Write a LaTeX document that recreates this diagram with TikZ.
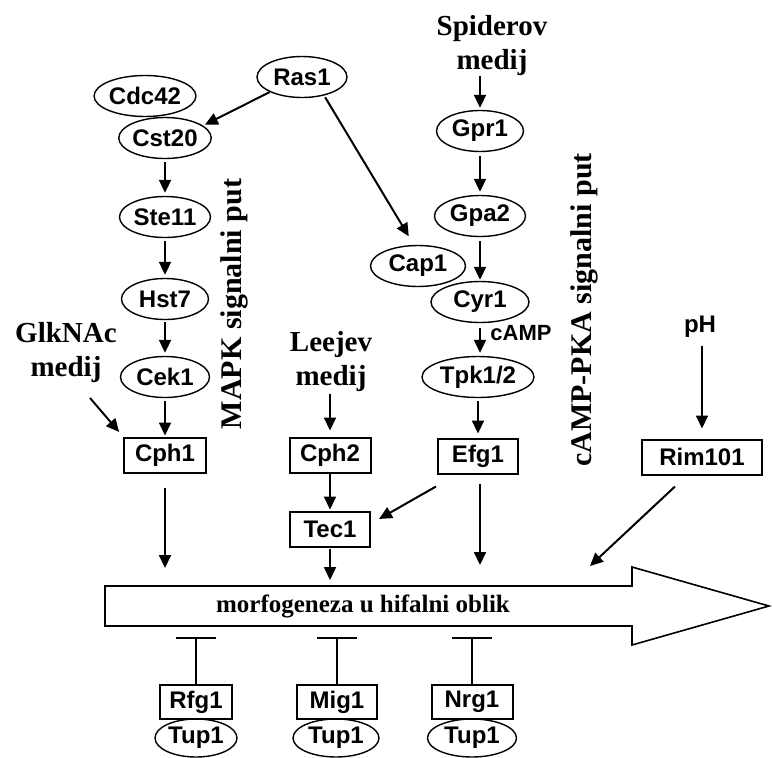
\documentclass[tikz,border=0pt]{standalone}
\usepackage{fontspec}
\setmainfont{Liberation Serif}
\setsansfont{Liberation Sans}
\usetikzlibrary{shapes.geometric,arrows.meta,calc}
\begin{document}
\begin{tikzpicture}[x=1pt,y=-1pt,
  ell/.style={draw, ellipse, line width=1.4pt, inner sep=0pt, minimum height=41pt,
    font=\sffamily\bfseries\fontsize{24}{27}\selectfont},
  gbox/.style={draw, rectangle, line width=2pt, inner sep=0pt, minimum height=35pt,
    font=\sffamily\bfseries\fontsize{24}{27}\selectfont},
  lab/.style={font=\rmfamily\bfseries\fontsize{29}{34}\selectfont, align=center, inner sep=0pt},
  vlab/.style={font=\rmfamily\bfseries\fontsize{30}{30}\selectfont, rotate=90, inner sep=0pt},
  slab/.style={font=\sffamily\bfseries\fontsize{22}{26}\selectfont, inner sep=0pt},
  arr/.style={line width=2pt, -{Triangle[length=13pt,width=12pt]}},
  tbar/.style={line width=2pt, -{Bar[width=40pt]}},
  bigarrow/.style={draw, line width=1.6pt, line join=miter}
]
\useasboundingbox (0,0) rectangle (772,758);

% left MAPK column
\node[ell, minimum width=100pt] (cdc42) at (145,96) {Cdc42};
\node[ell, minimum width=90pt] (ras1) at (302,77) {Ras1};
\node[ell, minimum width=88pt] (cst20) at (165,138) {Cst20};
\node[ell, minimum width=91pt] (ste11) at (165,217) {Ste11};
\node[ell, minimum width=87pt] (hst7) at (165,299) {Hst7};
\node[ell, minimum width=89pt] (cek1) at (165,377) {Cek1};
\node[gbox, minimum width=82pt] (cph1) at (165,455) {Cph1};
\node[lab] (glk) at (66,353) {GlkNAc\\medij};
\node[vlab] (mapk) at (234,304) {MAPK signalni put};

% middle
\node[lab] (leejev) at (331,362) {Leejev\\medij};
\node[gbox, minimum width=81pt] (cph2) at (330,455) {Cph2};
\node[gbox, minimum width=80pt] (tec1) at (330,529) {Tec1};

% cAMP column
\node[lab] (spid) at (492,46) {Spiderov\\medij};
\node[ell, minimum width=87pt] (gpr1) at (480,131) {Gpr1};
\node[ell, minimum width=91pt] (gpa2) at (480,216) {Gpa2};
\node[ell, minimum width=95pt] (cap1) at (418,266) {Cap1};
\node[ell, minimum width=98pt] (cyr1) at (480,302) {Cyr1};
\node[slab] (camp) at (521,333) {cAMP};
\node[ell, minimum width=112pt] (tpk) at (478,377) {Tpk1/2};
\node[gbox, minimum width=80pt] (efg1) at (478,456) {Efg1};
\node[vlab] (pka) at (584,310) {cAMP-PKA signalni put};

% pH
\node[slab, font=\sffamily\bfseries\fontsize{24}{27}\selectfont] (ph) at (700,327) {pH};
\node[gbox, minimum width=120pt] (rim) at (702,457) {Rim101};

% big arrow
\draw[bigarrow] (105,586) -- (632,586) -- (632,567) -- (769,606) -- (632,645) -- (632,626) -- (105,626) -- cycle;
\node[font=\rmfamily\bfseries\fontsize{25}{28}\selectfont, inner sep=0pt] (morph) at (363,606) {morfogeneza u hifalni oblik};

% repressors
\node[gbox, minimum width=72pt, minimum height=34pt] (rfg1) at (196,702) {Rfg1};
\node[ell, minimum width=82pt, minimum height=38pt] (tupa) at (196,738) {Tup1};
\node[gbox, minimum width=80pt, minimum height=34pt] (mig1) at (337,702) {Mig1};
\node[ell, minimum width=86pt, minimum height=38pt] (tupb) at (336,738) {Tup1};
\node[gbox, minimum width=81pt, minimum height=34pt] (nrg1) at (472,702) {Nrg1};
\node[ell, minimum width=89pt, minimum height=38pt] (tupc) at (472,738) {Tup1};

% free ends
\coordinate (g0) at (90,398);
\coordinate (b1) at (165,568);
\coordinate (b2) at (330,580);
\coordinate (b3) at (480,565);
\coordinate (b4) at (590,566);
\coordinate (t1) at (196,637);
\coordinate (t2) at (337,637);
\coordinate (t3) at (472,637);

% arrows
\draw[arr, shorten >=2pt] (ras1.205) -- (cst20.18);
\draw[arr, shorten >=10pt, shorten <=2pt] (ras1.-40) -- (cap1.101);
\draw[arr, shorten <=3pt, shorten >=3pt] (cst20) -- (ste11);
\draw[arr, shorten <=3pt, shorten >=3pt] (ste11) -- (hst7);
\draw[arr, shorten <=2pt, shorten >=3pt] (hst7) -- (cek1);
\draw[arr, shorten <=3pt, shorten >=1pt] (cek1) -- (cph1);
\draw[arr, shorten >=6pt] (g0) -- (cph1.north west);
\draw[arr, shorten <=14pt] (cph1) -- (b1);

\draw[arr, shorten <=2pt, shorten >=6pt] (cph2.north |- leejev.south) -- (cph2.north);
\draw[arr, shorten >=1pt] (cph2) -- (tec1);
\draw[arr, shorten <=1pt] (tec1) -- (b2);

\draw[arr, shorten <=0pt, shorten >=2pt] (gpr1.north |- spid.south) -- (gpr1.north);
\draw[arr, shorten <=4pt, shorten >=3pt] (gpa2.north |- gpr1.south) -- (gpa2.north);
\draw[arr, shorten <=4pt, shorten >=1pt] (gpa2.south) -- (gpa2.south |- cyr1.north);
\draw[arr, shorten <=5pt, shorten >=3pt] (cyr1.south) -- (cyr1.south |- tpk.north);
\draw[arr, shorten <=3pt, shorten >=4pt] (efg1.north |- tpk.south) -- (efg1.north);
\draw[arr] ([xshift=-1pt,yshift=-12pt]efg1.south west) -- ([xshift=8pt,yshift=10pt]tec1.east);
\draw[arr, shorten <=9pt] (b3 |- efg1.south) -- (b3);

\draw[arr, shorten <=8pt, shorten >=10pt] (rim.north |- ph.south) -- (rim.north);
\draw[arr] ([xshift=-27pt,yshift=-11pt]rim.south) -- (b4);

\draw[tbar] (rfg1) -- (t1);
\draw[tbar] (mig1) -- (t2);
\draw[tbar] (nrg1) -- (t3);
\end{tikzpicture}
\end{document}
